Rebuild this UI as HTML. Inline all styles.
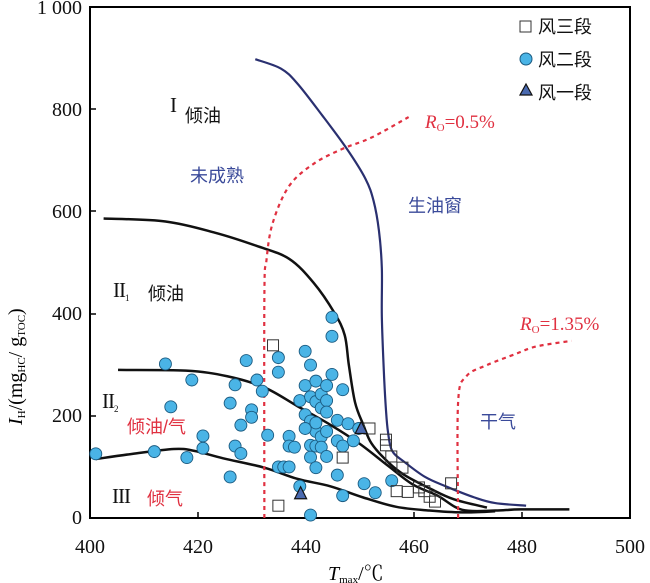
<!DOCTYPE html><html><head><meta charset="utf-8"><style>body{margin:0;background:#fff}svg{display:block}</style></head><body>
<svg id="s" width="650" height="583" xmlns="http://www.w3.org/2000/svg" font-family="'Liberation Serif','Noto Serif CJK SC',serif">
<rect x="90" y="7" width="540" height="511" fill="none" stroke="#000" stroke-width="2"/>
<g id="ticks" stroke="#000" stroke-width="1.5"></g>
<g font-size="20" text-anchor="end" fill="#111">
<text x="82" y="14">1 000</text><text x="82" y="116">800</text><text x="82" y="218">600</text><text x="82" y="320">400</text><text x="82" y="422">200</text><text x="82" y="524">0</text></g>
<g font-size="20" text-anchor="middle" fill="#111">
<text x="90" y="553">400</text><text x="198" y="553">420</text><text x="306" y="553">440</text><text x="414" y="553">460</text><text x="522" y="553">480</text><text x="630" y="553">500</text></g>
<text x="328" y="580" font-size="20"><tspan font-style="italic">T</tspan><tspan font-size="11" dy="3">max</tspan><tspan dy="-3">/℃</tspan></text>
<text transform="translate(22,425) rotate(-90)" font-size="20"><tspan font-style="italic">I</tspan><tspan font-size="11" dy="3">H</tspan><tspan dy="-3">/(mg</tspan><tspan font-size="11" dy="3">HC</tspan><tspan dy="-3">/ g</tspan><tspan font-size="11" dy="3">TOC</tspan><tspan dy="-3">)</tspan></text>
<g id="lines" fill="none"></g>
<g id="pts"></g>
<g font-family="'Liberation Serif',serif" font-size="21" fill="#111">
<text x="170" y="112">I</text>
<text x="113" y="297" letter-spacing="-1">II<tspan font-size="9" dy="4">1</tspan></text>
<text x="102" y="408" letter-spacing="-1">II<tspan font-size="9" dy="4">2</tspan></text>
<text x="112" y="503" letter-spacing="-1">III</text>
</g>
<g font-family="'Liberation Sans','Noto Sans CJK SC',sans-serif" font-size="18">
<text x="185" y="122" fill="#111">倾油</text>
<text x="190" y="182" fill="#3a4a9a">未成熟</text>
<text x="408" y="212" fill="#3a4a9a">生油窗</text>
<text x="148" y="300" fill="#111">倾油</text>
<text x="127" y="433" fill="#e03040">倾油/气</text>
<text x="480" y="428" fill="#3a4a9a">干气</text>
<text x="147" y="505" fill="#e03040">倾气</text>
<text x="538" y="33" fill="#111">风三段</text><text x="538" y="66" fill="#111">风二段</text><text x="538" y="99" fill="#111">风一段</text>
</g>
<text x="425" y="128" fill="#e03040" font-size="19"><tspan font-style="italic">R</tspan><tspan font-size="11" dy="3">O</tspan><tspan dy="-3">=0.5%</tspan></text>
<text x="520" y="330" fill="#e03040" font-size="19"><tspan font-style="italic">R</tspan><tspan font-size="11" dy="3">O</tspan><tspan dy="-3">=1.35%</tspan></text>
<rect x="520" y="21" width="11" height="11" fill="#fff" stroke="#333"/>
<circle cx="526" cy="59" r="6" fill="#4ab4e6" stroke="#1a5a80"/>
<polygon points="526,84 532,95 520,95" fill="#4a6ab0" stroke="#111" stroke-width="1.2"/>
</svg>
<script>
var X=function(z){return 90+(z-217)*0.4122},Y=function(z){return 7+(z-20)*0.373};
var NS="http://www.w3.org/2000/svg";
function el(p,t,a){var e=document.createElementNS(NS,t);for(var k in a)e.setAttribute(k,a[k]);document.getElementById(p).appendChild(e);return e;}
[198,306,414,522].forEach(function(x){el("ticks","line",{x1:x,y1:518,x2:x,y2:512});});
[109,211,314,416].forEach(function(y){el("ticks","line",{x1:90,y1:y,x2:96,y2:y});});
function path(a,st){
 var P=a.map(function(p){return [X(p[0]),Y(p[1])]});var d="M"+P[0][0]+","+P[0][1];
 for(var i=0;i<P.length-1;i++){var p0=P[i-1]||P[i],p1=P[i],p2=P[i+1],p3=P[i+2]||p2;
 d+=" C"+(p1[0]+(p2[0]-p0[0])/6)+","+(p1[1]+(p2[1]-p0[1])/6)+" "+(p2[0]-(p3[0]-p1[0])/6)+","+(p2[1]-(p3[1]-p1[1])/6)+" "+p2[0]+","+p2[1];}
 st.d=d;el("lines","path",st);}
path([[618,160],[680,185],[720,225],[780,310],[840,400],[885,480],[905,540],[918,620],[925,720],[925,850],[930,1000],[935,1100],[940,1160],[950,1210],[980,1240],[1030,1280],[1080,1305],[1150,1335],[1200,1350],[1275,1357]],{stroke:"#2a3070","stroke-width":2.2});
path([[250,587],[400,595],[520,625],[620,660],[700,695],[760,760],[810,840],[835,900],[845,980],[860,1080],[880,1140],[900,1190],[940,1240],[980,1275],[1040,1310],[1100,1340],[1180,1362]],{stroke:"#111","stroke-width":2.5});
path([[285,993],[450,995],[550,1010],[640,1040],[720,1090],[800,1140],[870,1190],[940,1250],[1000,1300],[1060,1330],[1120,1368],[1200,1370],[1260,1367],[1380,1367]],{stroke:"#111","stroke-width":2.5});
path([[231,1232],[320,1218],[420,1205],[470,1210],[540,1230],[640,1255],[720,1285],[800,1305],[880,1335],[960,1360],[1040,1370],[1120,1375],[1200,1372]],{stroke:"#111","stroke-width":2.5});
path([[640,1390],[640,800],[645,700],[660,600],[700,500],[760,440],[830,400],[900,370],[990,315]],{stroke:"#e03040","stroke-width":2.2,"stroke-dasharray":"4,4"});
path([[1110,1390],[1110,1080],[1130,1010],[1180,980],[1250,950],[1300,930],[1385,915]],{stroke:"#e03040","stroke-width":2.2,"stroke-dasharray":"4,4"});
var C=[[231,1218],[373,1212],[400,977],[413,1092],[464,1020],[452,1228],[491,1170],[491,1203],[557,1082],[557,1280],[569,1033],[569,1197],[583,1141],[583,1217],[596,968],[609,1100],[609,1120],[622,1020],[635,1050],[648,1168],[674,960],[674,999],[674,1253],[687,1253],[700,1253],[700,1171],[700,1197],[713,1200],[726,1075],[726,1305],[739,943],[752,980],[739,1035],[739,1113],[752,1065],[752,1130],[752,1195],[752,1227],[765,1023],[765,1078],[765,1158],[765,1197],[765,1255],[778,1058],[778,1095],[778,1172],[778,1200],[791,1035],[791,1075],[791,1106],[791,1158],[791,1225],[804,852],[804,903],[804,1005],[817,1128],[817,1183],[817,1275],[830,1046],[830,1197],[830,1330],[843,1137],[856,1183],[869,1150],[882,1298],[909,1322],[949,1290],[752,1382],[739,1150],[765,1135]];
C.forEach(function(p){el("pts","circle",{cx:X(p[0]),cy:Y(p[1]),r:6,fill:"#4ab4e6",stroke:"#1a5a80","stroke-width":0.9});});
var S=[[661,927],[674,1357],[830,1228],[895,1150],[935,1180],[935,1195],[948,1225],[975,1255],[961,1318],[988,1320],[1015,1308],[1028,1318],[1041,1333],[1054,1346],[1093,1297]];
S.forEach(function(p){el("pts","rect",{x:X(p[0])-5.5,y:Y(p[1])-5.5,width:11,height:11,fill:"none",stroke:"#333","stroke-width":1});});
[[875,1150],[728,1325]].forEach(function(p){var x=X(p[0]),y=Y(p[1]);el("pts","polygon",{points:x+","+(y-7)+" "+(x+6)+","+(y+5)+" "+(x-6)+","+(y+5),fill:"#4a6ab0",stroke:"#111","stroke-width":1.2});});
</script>
</body></html>
